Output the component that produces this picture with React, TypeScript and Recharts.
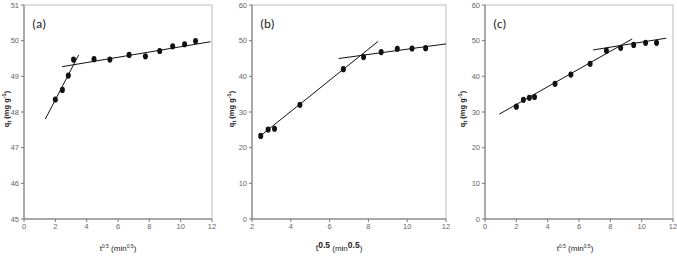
import React from 'react';
import { ScatterChart, Scatter, XAxis, YAxis, ReferenceArea } from 'recharts';

// Panel (a)
const xA = [2, 2.45, 2.83, 3.16, 4.47, 5.48, 6.71, 7.75, 8.66, 9.49, 10.25, 10.95];
const yA = [48.35, 48.62, 49.02, 49.47, 49.48, 49.47, 49.6, 49.56, 49.71, 49.84, 49.9, 49.99];
const fitA1 = [{ x: 1.36, y: 47.8 }, { x: 3.49, y: 49.6 }];
const fitA2 = [{ x: 2.43, y: 49.27 }, { x: 11.9, y: 49.97 }];

// Panel (b)
const xB = [2.45, 2.83, 3.16, 4.47, 6.71, 7.75, 8.66, 9.49, 10.25, 10.95];
const yB = [23.3, 25.1, 25.3, 32.0, 42.0, 45.4, 46.8, 47.7, 47.8, 47.9];
const fitB1 = [{ x: 2.34, y: 22.9 }, { x: 8.5, y: 49.8 }];
const fitB2 = [{ x: 6.47, y: 45.0 }, { x: 12, y: 49.1 }];

// Panel (c)
const xC = [2, 2.45, 2.83, 3.16, 4.47, 5.48, 6.71, 7.75, 8.66, 9.49, 10.25, 10.95];
const yC = [31.5, 33.4, 34.0, 34.2, 37.9, 40.5, 43.5, 47.2, 48.0, 48.8, 49.4, 49.4];
const fitC1 = [{ x: 0.91, y: 29.4 }, { x: 9.4, y: 50.5 }];
const fitC2 = [{ x: 6.9, y: 47.4 }, { x: 11.57, y: 50.7 }];

const ticksA_Y = [45, 46, 47, 48, 49, 50, 51];
const ticksBC_Y = [0, 10, 20, 30, 40, 50, 60];
const ticksAC_X = [0, 2, 4, 6, 8, 10, 12];
const ticksB_X = [2, 4, 6, 8, 10, 12];

const zip = (xs: number[], ys: number[]) => xs.map((x, i) => ({ x, y: ys[i] }));

const FONT = 'Liberation Sans, Arial, sans-serif';
const TICKFONT = 'Liberation Sans Narrow, Liberation Sans, Arial, sans-serif';
const tickStyle = { fontSize: 7.5, fill: '#666', fontFamily: TICKFONT };

const Dot = (props: any) => {
  const { cx, cy } = props;
  if (cx == null || cy == null) return <g />;
  return <ellipse cx={cx} cy={cy} rx={2.5} ry={3.1} fill="#111" />;
};
const NoDot = () => <g />;

type PanelProps = {
  left: number;
  width: number;
  yAxisWidth: number;
  marginRight: number;
  xDomain: [number, number];
  yDomain: [number, number];
  xTicks: number[];
  yTicks: number[];
  points: { x: number; y: number }[];
  fit1: { x: number; y: number }[];
  fit2: { x: number; y: number }[];
  tag: string;
  yLabelX: number;
  xLabelBig?: boolean;
  xLabelShift?: number;
};

const Panel = (p: PanelProps) => {
  const height = 256;
  const plotTop = 5;
  const plotBottom = 219;
  const YLabel = (lp: any) => {
    const cy = (plotTop + plotBottom) / 2 - 3;
    return (
      <text
        x={p.yLabelX}
        y={cy}
        transform={`rotate(-90 ${p.yLabelX} ${cy})`}
        textAnchor="middle"
        fontSize={7.5}
        fontWeight="bold"
        fontFamily={FONT}
        fill="#222"
      >
        q<tspan fontSize={5.5} dy={1.5}>t</tspan>
        <tspan dy={-1.5}> (mg g</tspan>
        <tspan fontSize={5.5} dy={-3}>-1</tspan>
        <tspan dy={3}>)</tspan>
      </text>
    );
  };
  const XLabel = (lp: any) => {
    const vb = lp.viewBox || {};
    const cx = (vb.x ?? 0) + (vb.width ?? 0) / 2 + (p.xLabelShift || 0);
    const y = 251;
    if (p.xLabelBig) {
      return (
        <text x={cx} y={y} textAnchor="middle" fontSize={9} fontFamily={FONT} fill="#222">
          t<tspan fontSize={8.5} fontWeight="bold" dy={-3.5}>0.5</tspan>
          <tspan dy={3.5} fontSize={8}> (min</tspan>
          <tspan fontSize={8.5} fontWeight="bold" dy={-3.5}>0.5</tspan>
          <tspan dy={3.5} fontSize={8}>)</tspan>
        </text>
      );
    }
    return (
      <text x={cx} y={y} textAnchor="middle" fontSize={8} fontFamily={FONT} fill="#222">
        t<tspan fontSize={5} dy={-3}>0.5</tspan>
        <tspan dy={3}> (min</tspan>
        <tspan fontSize={5} dy={-3}>0.5</tspan>
        <tspan dy={3}>)</tspan>
      </text>
    );
  };
  const Tag = (lp: any) => {
    const vb = lp.viewBox || {};
    return (
      <text x={(vb.x ?? 0) + 8} y={(vb.y ?? 0) + 23} fontSize={13} fontFamily="Carlito, Open Sans, sans-serif" fill="#222">
        {p.tag}
      </text>
    );
  };
  return (
    <div style={{ position: 'absolute', left: p.left, top: 0, width: p.width, height }}>
      <ScatterChart
        width={p.width}
        height={height}
        margin={{ top: plotTop, right: p.marginRight, bottom: 0, left: 0 }}
      >
        <ReferenceArea
          x1={p.xDomain[0]}
          x2={p.xDomain[1]}
          y1={p.yDomain[0]}
          y2={p.yDomain[1]}
          fill="none"
          stroke="#bbb"
          strokeWidth={1}
          label={<Tag />}
        />
        <XAxis
          type="number"
          dataKey="x"
          domain={p.xDomain}
          ticks={p.xTicks}
          allowDataOverflow
          height={height - plotBottom}
          tickSize={3}
          tickMargin={2}
          tick={tickStyle}
          stroke="#777"
          label={<XLabel />}
        />
        <YAxis
          type="number"
          dataKey="y"
          domain={p.yDomain}
          ticks={p.yTicks}
          allowDataOverflow
          width={p.yAxisWidth}
          tickSize={3}
          tickMargin={2}
          tick={tickStyle}
          stroke="#777"
          label={<YLabel />}
        />
        <Scatter data={p.fit1} line={{ stroke: '#111', strokeWidth: 1 }} shape={NoDot} isAnimationActive={false} />
        <Scatter data={p.fit2} line={{ stroke: '#111', strokeWidth: 1 }} shape={NoDot} isAnimationActive={false} />
        <Scatter data={p.points} shape={Dot} isAnimationActive={false} />
      </ScatterChart>
    </div>
  );
};

export default function App() {
  return (
    <div style={{ position: 'absolute', left: 0, top: 0, width: 677, height: 256, background: '#fff' }}>
      <Panel
        left={0}
        width={225}
        yAxisWidth={24}
        marginRight={13}
        xDomain={[0, 12]}
        yDomain={[45, 51]}
        xTicks={ticksAC_X}
        yTicks={ticksA_Y}
        points={zip(xA, yA)}
        fit1={fitA1}
        fit2={fitA2}
        tag="(a)"
        yLabelX={9}
      />
      <Panel
        left={225}
        width={225}
        yAxisWidth={27}
        marginRight={4}
        xDomain={[2, 12]}
        yDomain={[0, 60]}
        xTicks={ticksB_X}
        yTicks={ticksBC_Y}
        points={zip(xB, yB)}
        fit1={fitB1}
        fit2={fitB2}
        tag="(b)"
        yLabelX={9}
        xLabelBig
        xLabelShift={-10}
      />
      <Panel
        left={450}
        width={227}
        yAxisWidth={35}
        marginRight={4}
        xDomain={[0, 12]}
        yDomain={[0, 60]}
        xTicks={ticksAC_X}
        yTicks={ticksBC_Y}
        points={zip(xC, yC)}
        fit1={fitC1}
        fit2={fitC2}
        tag="(c)"
        yLabelX={15}
        xLabelShift={-4}
      />
    </div>
  );
}
